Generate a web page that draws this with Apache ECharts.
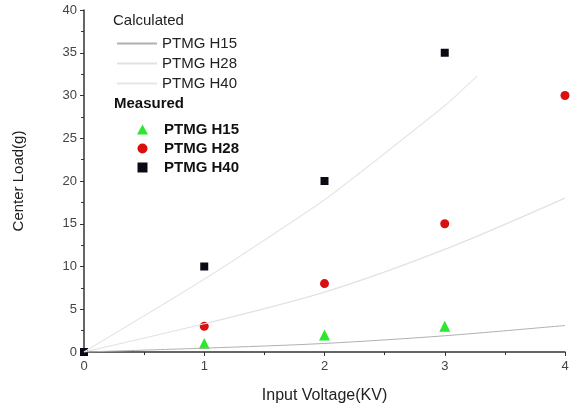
<!DOCTYPE html>
<html><head><meta charset="utf-8">
<script src="https://cdn.jsdelivr.net/npm/echarts@6/dist/echarts.min.js"></script>
<style>html,body{margin:0;padding:0;background:#fff}#c{width:573px;height:409px}</style>
</head><body><div id="c"></div>
<script>
const xTicks = [0, 1, 2, 3, 4];
const calcH15 = [[0,0],[1,0.45],[2,1.0],[3,1.9],[4,3.1]];
const calcH28 = [[0,0],[1,3.3],[2,7],[3,12],[4,18]];
const calcH40 = [[0,0],[1,8.5],[2,17.8],[3,28.8],[3.27,32.3]];
const measH15 = [[1,1],[2,2],[3,3]];
const measH28 = [[1,3],[2,8],[3,15],[4,30]];
const measH40 = [[0,0],[1,10],[2,20],[3,35]];
const font = 'Liberation Sans, Arial, sans-serif';
const chart = echarts.init(document.getElementById('c'));
chart.setOption({
  animation: false,
  grid: {left: 84, right: 8, top: 10, bottom: 56},
  xAxis: {type: 'value', min: 0, max: 4, interval: 1,
    name: 'Input Voltage(KV)', nameLocation: 'middle', nameGap: 36,
    nameTextStyle: {fontFamily: font, fontSize: 16, color: '#222'},
    axisLine: {lineStyle: {color: '#333', width: 1.5}},
    axisTick: {length: 4, lineStyle: {color: '#333'}},
    minorTick: {show: true, splitNumber: 2, length: 3},
    axisLabel: {fontFamily: font, fontSize: 13, color: '#444', margin: 8},
    splitLine: {show: false}},
  yAxis: {type: 'value', min: 0, max: 40, interval: 5,
    name: 'Center Load(g)', nameLocation: 'middle', nameGap: 58,
    nameTextStyle: {fontFamily: font, fontSize: 15, color: '#222'},
    axisLine: {show: true, lineStyle: {color: '#333', width: 1.5}},
    axisTick: {show: true, length: 4, lineStyle: {color: '#333'}},
    minorTick: {show: true, splitNumber: 2, length: 3},
    axisLabel: {fontFamily: font, fontSize: 13, color: '#444', margin: 7},
    splitLine: {show: false}},
  legend: [
    {orient: 'vertical', left: 112, top: 31, itemGap: 5, itemWidth: 40, itemHeight: 2,
     icon: 'rect', textStyle: {fontFamily: font, fontSize: 15, color: '#222'},
     data: ['Calc H15', 'Calc H28', 'Calc H40'],
     formatter: n => n.replace('Calc ', 'PTMG ')},
    {orient: 'vertical', left: 132, top: 117, itemGap: 4, itemWidth: 11, itemHeight: 10,
     textStyle: {fontFamily: font, fontSize: 15, fontWeight: 'bold', color: '#111', padding: [0,0,0,11]},
     data: [{name: 'Meas H15', icon: 'triangle', itemStyle: {opacity: 1}},
            {name: 'Meas H28', icon: 'circle', itemStyle: {opacity: 1}},
            {name: 'Meas H40', icon: 'path://M0,0h9v9h-9z', itemStyle: {opacity: 1}}],
     formatter: n => n.replace('Meas ', 'PTMG ')}
  ],
  graphic: [
    {type: 'text', left: 113, top: 13, style: {text: 'Calculated', fontFamily: font, fontSize: 15, fill: '#222'}},
    {type: 'text', left: 114, top: 96, style: {text: 'Measured', fontFamily: font, fontSize: 15, fontWeight: 'bold', fill: '#111'}}
  ],
  series: [
    {name: 'Calc H15', type: 'line', data: calcH15, smooth: 0.3, showSymbol: false,
     lineStyle: {color: '#b0b0b0', width: 1}, itemStyle: {color: '#b0b0b0'}},
    {name: 'Calc H28', type: 'line', data: calcH28, smooth: 0.3, showSymbol: false,
     lineStyle: {color: '#e2e2e2', width: 1.2}, itemStyle: {color: '#e2e2e2'}},
    {name: 'Calc H40', type: 'line', data: calcH40, smooth: 0.15, showSymbol: false,
     lineStyle: {color: '#e6e6e6', width: 1.2}, itemStyle: {color: '#e6e6e6'}},
    {name: 'Meas H15', type: 'scatter', data: measH15, symbol: 'triangle', symbolSize: 11,
     itemStyle: {color: '#2ee62e', opacity: 1}},
    {name: 'Meas H28', type: 'scatter', data: measH28, symbol: 'circle', symbolSize: 9,
     itemStyle: {color: '#d81010', opacity: 1}},
    {name: 'Meas H40', type: 'scatter', data: measH40, symbol: 'rect', symbolSize: 8,
     itemStyle: {color: '#0a0a14', opacity: 1}}
  ]
});
</script></body></html>
